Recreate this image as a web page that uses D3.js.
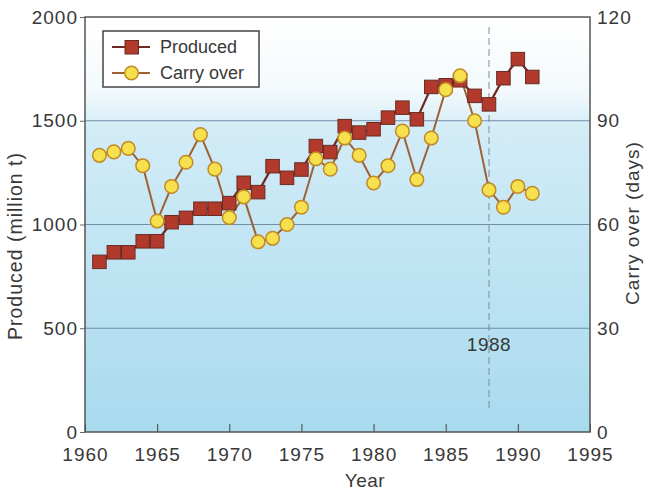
<!DOCTYPE html>
<html>
<head>
<meta charset="utf-8">
<script src="https://cdn.jsdelivr.net/npm/d3@7"></script>
<style>
  body { margin: 0; background: #fff; }
  text { font-family: "Liberation Sans", Arial, sans-serif; fill: #383838; }
</style>
</head>
<body>
<div id="chart"></div>
<script>
const years = d3.range(1961, 1992);
const produced = [820, 866, 866, 919, 919, 1011, 1032, 1076, 1076, 1103, 1201, 1156, 1281, 1225, 1265,
                  1378, 1349, 1474, 1443, 1459, 1515, 1563, 1507, 1663, 1671, 1695, 1620, 1579, 1705, 1797, 1711];
const carryOver = [80, 81, 82, 77, 61, 71, 78, 86, 76, 62, 68, 55, 56, 60, 65,
                   79, 76, 85, 80, 72, 77, 87, 73, 85, 99, 103, 90, 70, 65, 71, 69];
const xTicks = [1960, 1965, 1970, 1975, 1980, 1985, 1990, 1995];
const yTicks = [0, 500, 1000, 1500, 2000];
const y2Ticks = [0, 30, 60, 90, 120];
const markYear = 1988;

const margin = {top: 17, right: 55, bottom: 60, left: 85};
const width = 645 - margin.left - margin.right;
const height = 492 - margin.top - margin.bottom;

const root = d3.select("#chart").append("svg")
    .attr("width", 645)
    .attr("height", 492);

const defs = root.append("defs");
const grad = defs.append("linearGradient")
    .attr("id", "bg").attr("x1", 0).attr("y1", 0).attr("x2", 0).attr("y2", 1);
grad.append("stop").attr("offset", "0%").attr("stop-color", "#ffffff");
grad.append("stop").attr("offset", "18%").attr("stop-color", "#f3f9fc");
grad.append("stop").attr("offset", "27%").attr("stop-color", "#d2ecf7");
grad.append("stop").attr("offset", "100%").attr("stop-color", "#a8daee");

const svg = root.append("g")
    .attr("transform", `translate(${margin.left},${margin.top})`);

const xScale = d3.scaleLinear().domain([1960, 1995]).range([0, width]);
const yScale = d3.scaleLinear().domain([0, 2000]).range([height, 0]);
const y2Scale = d3.scaleLinear().domain([0, 120]).range([height, 0]);

svg.append("rect")
    .attr("width", width).attr("height", height)
    .attr("fill", "url(#bg)");

// grid lines
svg.selectAll(".grid")
    .data(yTicks.filter(d => d > 0 && d < 2000))
    .enter().append("line")
    .attr("x1", 0).attr("x2", width)
    .attr("y1", d => yScale(d)).attr("y2", d => yScale(d))
    .attr("stroke", "#6f8ea8").attr("stroke-width", 1.2);

// 1988 marker
svg.append("line")
    .attr("x1", xScale(markYear)).attr("x2", xScale(markYear))
    .attr("y1", 10).attr("y2", height - 22)
    .attr("stroke", "#7d8c9c").attr("stroke-width", 1)
    .attr("stroke-dasharray", "7,4");
svg.append("text")
    .attr("x", xScale(markYear)).attr("y", 327)
    .attr("dy", "0.35em")
    .attr("text-anchor", "middle")
    .attr("font-size", 19)
    .attr("letter-spacing", 0.5)
    .text(markYear);

// axes
const xAxis = d3.axisBottom(xScale).tickValues(xTicks).tickFormat(d3.format("d"))
    .tickSize(-8).tickPadding(16);
const gx = svg.append("g").attr("transform", `translate(0,${height})`).call(xAxis);
gx.select(".domain").remove();
gx.selectAll("text").attr("font-size", 19).attr("letter-spacing", 1).attr("fill", "#383838");
gx.selectAll("line").attr("stroke", "#444");

const yAxis = d3.axisLeft(yScale).tickValues(yTicks).tickFormat(d3.format("d"))
    .tickSize(5).tickPadding(2);
const gy = svg.append("g").call(yAxis);
gy.select(".domain").remove();
gy.selectAll("text").attr("font-size", 19).attr("letter-spacing", 1).attr("fill", "#383838");
gy.selectAll("line").attr("stroke", "#666");

const y2Axis = d3.axisRight(y2Scale).tickValues(y2Ticks).tickSize(0).tickPadding(7);
const gy2 = svg.append("g").attr("transform", `translate(${width},0)`).call(y2Axis);
gy2.select(".domain").remove();
gy2.selectAll("text").attr("font-size", 19).attr("letter-spacing", 1).attr("fill", "#383838");

// frame
svg.append("rect")
    .attr("width", width).attr("height", height)
    .attr("fill", "none").attr("stroke", "#555").attr("stroke-width", 1.5);

// carry over series
const carryLine = d3.line()
    .x((d, i) => xScale(years[i]))
    .y(d => y2Scale(d));
svg.append("path")
    .datum(carryOver)
    .attr("d", carryLine)
    .attr("fill", "none").attr("stroke", "#9c6236").attr("stroke-width", 2);

// produced series
const prodLine = d3.line()
    .x((d, i) => xScale(years[i]))
    .y(d => yScale(d));
svg.append("path")
    .datum(produced)
    .attr("d", prodLine)
    .attr("fill", "none").attr("stroke", "#6e2a22").attr("stroke-width", 2.2);

const sq = 13.5;
svg.selectAll(".sq")
    .data(produced)
    .enter().append("rect")
    .attr("x", (d, i) => xScale(years[i]) - sq / 2)
    .attr("y", d => yScale(d) - sq / 2)
    .attr("width", sq).attr("height", sq)
    .attr("fill", "#b23a2c").attr("stroke", "#6a2a22").attr("stroke-width", 1);

svg.selectAll(".dot")
    .data(carryOver)
    .enter().append("circle")
    .attr("cx", (d, i) => xScale(years[i]))
    .attr("cy", d => y2Scale(d))
    .attr("r", 6.8)
    .attr("fill", "#f6e04e").attr("stroke", "#c28a25").attr("stroke-width", 1.5);

// legend
const lg = svg.append("g").attr("transform", "translate(18,14)");
lg.append("rect")
    .attr("width", 156).attr("height", 56)
    .attr("fill", "#fff").attr("stroke", "#444").attr("stroke-width", 1.5);
lg.append("line").attr("x1", 9).attr("x2", 47).attr("y1", 16).attr("y2", 16)
    .attr("stroke", "#6e2a22").attr("stroke-width", 2.2);
lg.append("rect").attr("x", 22).attr("y", 9.5).attr("width", sq).attr("height", sq)
    .attr("fill", "#b23a2c").attr("stroke", "#6a2a22");
lg.append("text").attr("x", 57).attr("y", 16).attr("dy", "0.35em")
    .attr("font-size", 18).text("Produced");
lg.append("line").attr("x1", 9).attr("x2", 47).attr("y1", 42).attr("y2", 42)
    .attr("stroke", "#9c6236").attr("stroke-width", 2);
lg.append("circle").attr("cx", 28.5).attr("cy", 42).attr("r", 6.8)
    .attr("fill", "#f6e04e").attr("stroke", "#c28a25").attr("stroke-width", 1.5);
lg.append("text").attr("x", 57).attr("y", 42).attr("dy", "0.35em")
    .attr("font-size", 18).text("Carry over");

// axis titles
svg.append("text")
    .attr("text-anchor", "middle")
    .attr("x", 365 - margin.left)
    .attr("y", 480 - margin.top)
    .attr("dy", "0.35em")
    .attr("font-size", 19)
    .attr("letter-spacing", 0.5)
    .text("Year");

svg.append("text")
    .attr("text-anchor", "middle")
    .attr("transform", `translate(${15 - margin.left},${246 - margin.top}) rotate(-90)`)
    .attr("dy", "0.35em")
    .attr("font-size", 19.5)
    .attr("letter-spacing", 1)
    .text("Produced  (million t)");

svg.append("text")
    .attr("text-anchor", "middle")
    .attr("transform", `translate(${632 - margin.left},${223 - margin.top}) rotate(-90)`)
    .attr("dy", "0.35em")
    .attr("font-size", 19)
    .attr("letter-spacing", 1)
    .text("Carry over  (days)");
</script>
</body>
</html>
